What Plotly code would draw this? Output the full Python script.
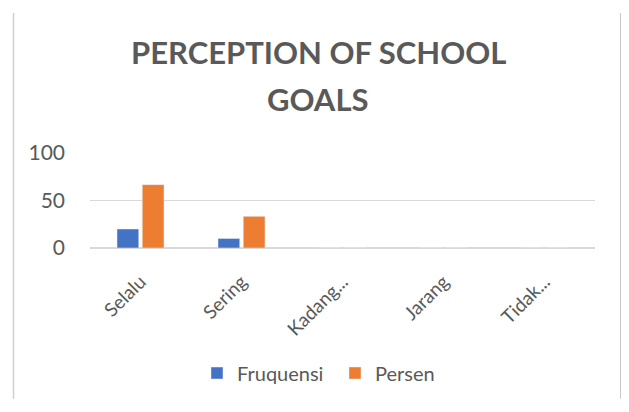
import plotly.graph_objects as go

categories = ["Selalu", "Sering", "Kadang...", "Jarang", "Tidak..."]
fruquensi = [20, 10, 0, 0, 0]
persen = [66.67, 33.33, 0, 0, 0]
title_lines = ["PERCEPTION OF SCHOOL", "GOALS"]

fig = go.Figure()
fig.add_trace(go.Bar(name="Fruquensi", x=categories, y=fruquensi, marker_color="#4472C4"))
fig.add_trace(go.Bar(name="Persen", x=categories, y=persen, marker_color="#ED7D31"))

# plot area: 505 x 97 px, figure offset by the page's 8px body margin
PH = 97.0
PW = 505.0
cx = (318 - 8 - 82) / PW  # chart-wide horizontal centre in paper units
fig.update_layout(
    width=621, height=396,
    margin=dict(l=82, r=34, t=145, b=154),
    paper_bgcolor="white", plot_bgcolor="white",
    font=dict(family="Lato", color="#595959"),
    barmode="group", bargap=0.5, bargroupgap=0.14,
    showlegend=True,
    legend=dict(orientation="h", x=(335 - 90) / PW, xanchor="center", y=-1.316, yanchor="middle",
                font=dict(size=20, color="#595959"), itemwidth=30, traceorder="normal",
                entrywidth=93),
    xaxis=dict(tickangle=-45, tickfont=dict(size=19, color="#595959"), showgrid=False,
               showline=False, ticks="", ticklabelstandoff=18),
    yaxis=dict(range=[0, 100], dtick=50, tickfont=dict(size=21, color="#595959"),
               gridcolor="#D9D9D9", gridwidth=1, zeroline=True, zerolinecolor="#D9D9D9",
               showline=False, ticks="", ticklabelstandoff=24),
    annotations=[
        dict(text="<b>%s</b>" % title_lines[0], xref="paper", yref="paper", x=cx, y=(242 - 42) / PH,
             xanchor="center", yanchor="middle", showarrow=False,
             font=dict(size=31, color="#595959", family="Lato")),
        dict(text="<b>%s</b>" % title_lines[1], xref="paper", yref="paper", x=cx, y=(242 - 90) / PH,
             xanchor="center", yanchor="middle", showarrow=False,
             font=dict(size=31, color="#595959", family="Lato")),
    ],
    shapes=[
        dict(type="line", xref="paper", yref="paper", x0=(5.5 - 82) / PW, x1=(5.5 - 82) / PW,
             y0=(242 - 396) / PH, y1=(242 - 2) / PH, line=dict(color="#D0D0D0", width=1.5)),
        dict(type="line", xref="paper", yref="paper", x0=(613 - 82) / PW, x1=(613 - 82) / PW,
             y0=(242 - 396) / PH, y1=(242 - 2) / PH, line=dict(color="#C8C8C8", width=2)),
    ],
)

fig.write_html("out.html")
